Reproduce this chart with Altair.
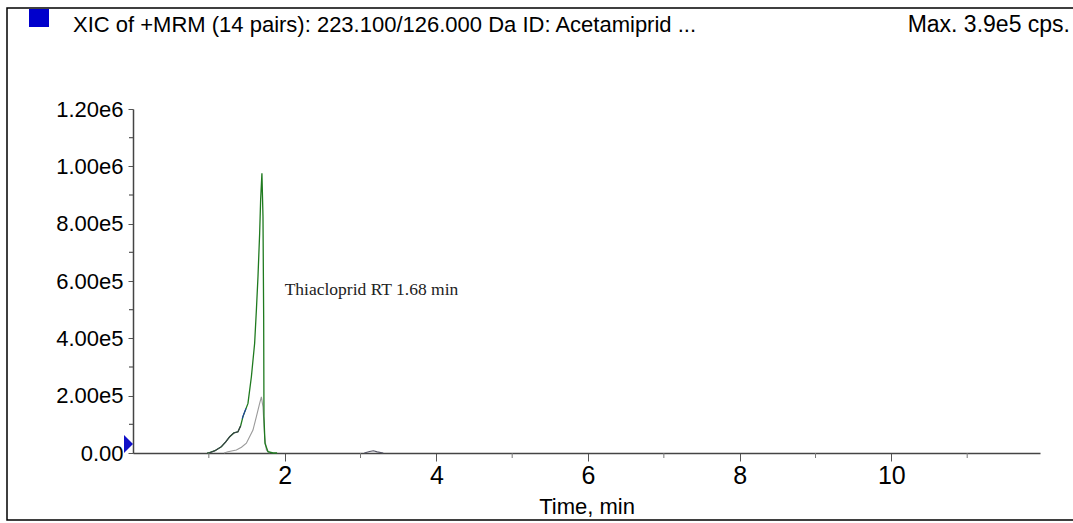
import altair as alt
import pandas as pd

# ---- data ----
green_t = [0.98, 1.01, 1.08, 1.165, 1.22, 1.276, 1.33, 1.384, 1.42, 1.45, 1.516, 1.561,
           1.604, 1.627, 1.648, 1.670, 1.683, 1.700, 1.714, 1.723, 1.727, 1.740, 1.780, 1.846, 1.90]
green_v = [0, 1000, 8000, 22000, 38000, 57000, 70000, 74000, 95000, 127000, 173000, 266000,
           383000, 499000, 615000, 766000, 883000, 976000, 824000, 476000, 127000, 34000, 4500, 0, 0]

foot_t = [0.98, 1.01, 1.08, 1.165, 1.22, 1.276, 1.33, 1.384, 1.42]
foot_v = [0, 1000, 8000, 22000, 38000, 57000, 70000, 74000, 95000]

blue_t = [1.44, 1.46, 1.49]
blue_v = [120000, 135000, 155000]

gray_t = [1.20, 1.252, 1.363, 1.43, 1.495, 1.582, 1.627, 1.670, 1.693, 1.714, 1.736, 1.759, 1.80]
gray_v = [0, 4500, 10500, 20000, 34000, 80000, 127000, 173000, 196000, 161000, 57000, 10500, 0]

bump_t = [3.05, 3.12, 3.17, 3.22, 3.30]
bump_v = [0, 5000, 8000, 4000, 0]

y_major = [0, 200000, 400000, 600000, 800000, 1000000, 1200000]
y_minor = [100000, 300000, 500000, 700000, 900000, 1100000]
x_major = [2, 4, 6, 8, 10]
x_minor = [1, 3, 5, 7, 9, 11]

title_text = "XIC of +MRM (14 pairs): 223.100/126.000 Da ID: Acetamiprid ..."
max_text = "Max. 3.9e5 cps."
annot_text = ["Thiacloprid RT 1.68 min"]
annot_t = [2.0]
annot_v = [568000]

FONT = "Liberation Sans"

xscale = alt.Scale(domain=[0, 11.96], nice=False, zero=False)
yscale = alt.Scale(domain=[0, 1200000], nice=False)

x_axis = alt.Axis(values=x_major, format="d", tickSize=8, tickColor="#555", domainColor="#444",
                  domainWidth=1.5, labelFont=FONT, labelFontSize=25, labelColor="black",
                  labelPadding=2, grid=False, title="Time, min", titleFont=FONT,
                  titleFontSize=22, titleFontWeight="normal", titleColor="black", titlePadding=8)
y_axis = alt.Axis(values=y_major,
                  labelExpr="datum.value == 0 ? '0.00' : replace(format(datum.value, '.2e'), '+', '')",
                  tickSize=5, tickColor="#555", domainColor="#444", domainWidth=1.5,
                  labelFont=FONT, labelFontSize=22, labelColor="black", labelPadding=5,
                  grid=False, title=None)


def X(f):
    return alt.X(f, type="quantitative", scale=xscale, axis=x_axis)


def Y(f):
    return alt.Y(f, type="quantitative", scale=yscale, axis=y_axis)


def trace(ts, vs, color, width=1.1):
    d = pd.DataFrame({"t": ts, "v": vs, "i": list(range(len(ts)))})
    return alt.Chart(d).mark_line(color=color, strokeWidth=width, interpolate="linear").encode(
        x=X("t"), y=Y("v"), order="i:Q")


one = pd.DataFrame({"a": [0]})

border = alt.Chart(one).mark_rect(fillOpacity=0, stroke="black", strokeWidth=1.5).encode(
    x=alt.value(-126), x2=alt.value(945), y=alt.value(-101), y2=alt.value(411))
square = alt.Chart(one).mark_rect(color="#0000cc").encode(
    x=alt.value(-104), x2=alt.value(-84), y=alt.value(-100), y2=alt.value(-82))
title = alt.Chart(one).mark_text(font=FONT, fontSize=22, align="left", baseline="alphabetic",
                                 color="black").encode(
    x=alt.value(-60), y=alt.value(-77), text=alt.value(title_text))
maxlab = alt.Chart(one).mark_text(font=FONT, fontSize=23, align="right", baseline="alphabetic",
                                  color="black").encode(
    x=alt.value(937), y=alt.value(-77), text=alt.value(max_text))
tri = alt.Chart(one).mark_point(shape="M-1,-1L0,0L-1,1Z", filled=True, color="#1010c8",
                                size=324, opacity=1).encode(x=alt.value(0), y=alt.value(335))

yminor = alt.Chart(pd.DataFrame({"v": y_minor})).mark_rule(color="#555", strokeWidth=1.2).encode(
    y=Y("v"), x=alt.value(-4), x2=alt.value(0))
xminor = alt.Chart(pd.DataFrame({"t": x_minor})).mark_rule(color="#777").encode(
    x=X("t"), y=alt.value(344), y2=alt.value(349))

annot = alt.Chart(pd.DataFrame({"t": annot_t, "v": annot_v, "label": annot_text})).mark_text(
    font="Liberation Serif", fontSize=17.5, align="left", baseline="middle", color="#222").encode(
    x=X("t"), y=Y("v"), text="label:N")

chart = alt.layer(
    trace(gray_t, gray_v, "#9a9a9a"),
    trace(green_t, green_v, "#1f7a1f", 1.3),
    trace(foot_t, foot_v, "#3a3a4a"),
    trace(blue_t, blue_v, "#2040a0"),
    trace(bump_t, bump_v, "#556"),
    yminor, xminor, annot, border, square, title, maxlab, tri,
).properties(
    width=907, height=344,
    autosize=alt.AutoSizeParams(type="none"),
    padding={"left": 133, "top": 109, "right": 33, "bottom": 70},
    background="white",
).configure_view(stroke=None)

chart.save("out.html", embed_options={"renderer": "svg", "actions": False})
